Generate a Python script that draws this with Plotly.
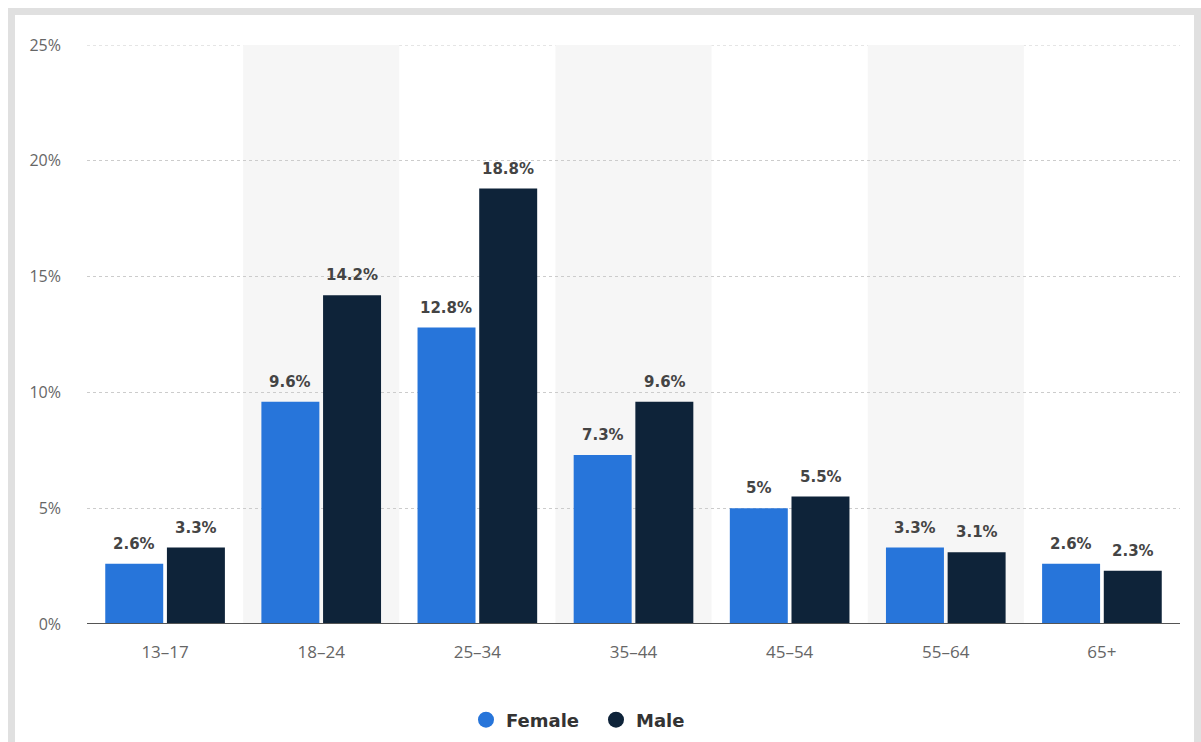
import plotly.graph_objects as go

# Share of users by age group and gender (percent)
age_groups = ["13–17", "18–24", "25–34", "35–44", "45–54", "55–64", "65+"]
female = [2.6, 9.6, 12.8, 7.3, 5.0, 3.3, 2.6]
male = [3.3, 14.2, 18.8, 9.6, 5.5, 3.1, 2.3]
y_ticks = [0, 5, 10, 15, 20, 25]
y_tick_labels = ["0%", "5%", "10%", "15%", "20%", "25%"]

FEMALE_COLOR = "#2775da"
MALE_COLOR = "#0e2339"
FONT = "Open Sans"
BOLD_FONT = "DejaVu Sans"

W, H = 1201, 742
L, R, T, B = 87, 21, 45, 118
plot_w = W - L - R
plot_h = H - T - B
BAR_OFFSET = 31  # px from category centre to each bar centre


def px_x(px):
    return (px - L) / plot_w


def px_y(py):
    return (H - B - py) / plot_h


def fmt(v):
    s = f"{v:.1f}"
    if s.endswith(".0"):
        s = s[:-2]
    return s + "%"


label_font = dict(family=BOLD_FONT, size=15, color="#444444", weight="bold")

fig = go.Figure()
annotations = []
for name, vals, color, shift in (("Female", female, FEMALE_COLOR, -BAR_OFFSET),
                                 ("Male", male, MALE_COLOR, BAR_OFFSET)):
    fig.add_bar(
        name=name, x=age_groups, y=vals, marker_color=color,
        marker_line_width=0, showlegend=False, legendgroup=name,
    )
    for cat, v in zip(age_groups, vals):
        annotations.append(dict(
            x=cat, y=v, xref="x", yref="y", text=fmt(v), showarrow=False,
            xshift=shift, yshift=9, yanchor="bottom", font=label_font,
        ))

# round legend markers
for name, color in (("Female", FEMALE_COLOR), ("Male", MALE_COLOR)):
    fig.add_scatter(
        name=name, x=[None], y=[None], mode="markers", legendgroup=name,
        marker=dict(symbol="circle", size=21, color=color),
        showlegend=True,
    )

shapes = []
# alternating column shading
for i in (1, 3, 5):
    shapes.append(dict(
        type="rect", xref="x", yref="y", x0=i - 0.5, x1=i + 0.5, y0=0, y1=25,
        fillcolor="#f6f6f6", line_width=0, layer="below",
    ))
# dotted gridline at the top of the axis
shapes.append(dict(
    type="line", xref="paper", yref="y", x0=0, x1=1, y0=25, y1=25,
    line=dict(color="#cccccc", width=1, dash="dot"), layer="below",
))
# zero baseline
shapes.append(dict(
    type="line", xref="paper", yref="y", x0=0, x1=1, y0=0, y1=0,
    line=dict(color="#555555", width=2), layer="above",
))
# outer frame bands (top, left, right)
frame = "#e0e0e0"
shapes.append(dict(type="rect", xref="paper", yref="paper",
                   x0=px_x(8), x1=px_x(1201), y0=px_y(15), y1=px_y(8),
                   fillcolor=frame, line_width=0, layer="below"))
shapes.append(dict(type="rect", xref="paper", yref="paper",
                   x0=px_x(8), x1=px_x(15), y0=px_y(742), y1=px_y(8),
                   fillcolor=frame, line_width=0, layer="below"))
shapes.append(dict(type="rect", xref="paper", yref="paper",
                   x0=px_x(1194), x1=px_x(1201), y0=px_y(742), y1=px_y(8),
                   fillcolor=frame, line_width=0, layer="below"))

fig.update_layout(
    width=W, height=H,
    margin=dict(l=L, r=R, t=T, b=B, autoexpand=False),
    paper_bgcolor="white", plot_bgcolor="rgba(0,0,0,0)",
    barmode="group", bargap=0.21, bargroupgap=0.06,
    font=dict(family=FONT, size=16, color="#666666"),
    showlegend=True,
    legend=dict(
        orientation="h", x=466 / W, xanchor="left", xref="container",
        yref="container", y=1 - 720 / H, yanchor="middle",
        font=dict(family=BOLD_FONT, size=18, color="#333333", weight="bold"),
        traceorder="normal", itemwidth=30,
        entrywidth=85, entrywidthmode="pixels",
    ),
    shapes=shapes,
    annotations=annotations,
    xaxis=dict(
        showgrid=False, zeroline=False, showline=False, ticks="",
        tickfont=dict(family=FONT, size=17, color="#666666"),
        ticklabelstandoff=16,
    ),
    yaxis=dict(
        range=[0, 25], tickvals=y_ticks, ticktext=y_tick_labels,
        showgrid=True, gridcolor="#cccccc", griddash="dot", gridwidth=1,
        zeroline=False, showline=False, ticks="",
        tickfont=dict(family=FONT, size=16, color="#666666"),
        ticklabelstandoff=25,
    ),
)

fig.write_html("out.html")
